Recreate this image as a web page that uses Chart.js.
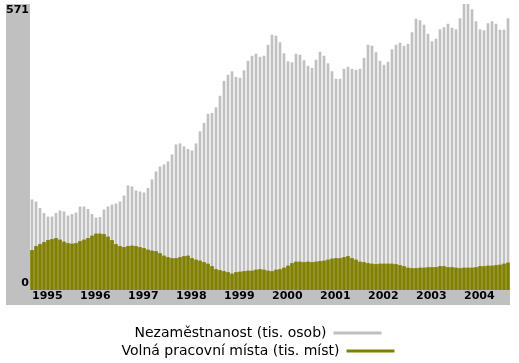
<!DOCTYPE html>
<html><head><meta charset="utf-8">
<script src="https://cdn.jsdelivr.net/npm/chart.js@4/dist/chart.umd.min.js"></script>
<style>html,body{margin:0;padding:0;background:#fff;}canvas{display:block;}</style>
</head><body>
<canvas id="c" width="519" height="363"></canvas>
<script>
const years = ['1995','1996','1997','1998','1999','2000','2001','2002','2003','2004'];
const monthNames = ['01','02','03','04','05','06','07','08','09','10','11','12'];
const yTicks = [0, 571];
const seriesNames = ['Nezaměstnanost (tis. osob)', 'Volná pracovní místa (tis. míst)'];

// Nezaměstnanost (tis. osob), monthly 1995-01 .. 2004-12
const unemployment = [
  180,176,163,153,146,146,153,158,156,148,151,154,
  166,166,161,151,144,145,160,166,170,172,176,188,
  208,206,198,196,194,203,220,236,246,250,256,270,
  290,292,286,281,278,292,316,333,351,353,364,387,
  417,429,436,425,423,438,457,467,471,465,467,489,
  509,507,494,472,456,454,471,469,458,447,443,459,
  475,467,452,436,421,421,441,445,441,439,441,463,
  489,487,474,457,449,455,480,489,493,487,491,514,
  541,538,529,511,496,501,520,524,531,523,520,542,
  571,571,560,536,520,518,532,536,531,519,519,542
];
// Volná pracovní místa (tis. míst)
const vacancies = [
  79,87,91,95,99,101,103,100,96,93,92,93,
  97,100,103,108,112,112,111,106,99,91,87,85,
  87,88,87,85,83,80,78,77,73,68,65,63,
  63,65,67,68,63,60,58,55,52,47,41,39,
  37,35,32,35,36,37,38,38,40,41,40,38,
  37,40,41,44,48,53,56,56,55,56,55,56,
  57,58,60,62,63,63,65,67,63,60,56,55,
  53,52,51,52,52,52,52,51,49,47,44,43,
  43,44,44,45,45,45,47,47,45,45,44,43,
  44,44,44,45,47,47,48,48,49,50,52,54
];

const categories = [];
years.forEach(y => monthNames.forEach(m => categories.push(y + '-' + m)));

const GRAY = '#c0c0c0';
const OLIVE = '#808000';
const FRAME = '#c0c0c0';

const framePlugin = {
  id: 'frame',
  beforeDraw(chart) {
    const {ctx, chartArea, scales} = chart;
    const y = scales.y;
    const stripH = 15;
    ctx.save();
    ctx.fillStyle = FRAME;
    ctx.fillRect(y.left, chartArea.top, chartArea.left - y.left, chartArea.bottom + stripH - chartArea.top);
    ctx.fillRect(y.left, chartArea.bottom, chartArea.right - y.left, stripH);
    ctx.restore();
  }
};

const tickFont = {family: 'DejaVu Sans', size: 11, weight: 'bold'};

new Chart(document.getElementById('c'), {
  type: 'bar',
  data: {
    labels: categories,
    datasets: [
      {label: seriesNames[0], data: unemployment, backgroundColor: GRAY, borderWidth: 0,
       barThickness: 2, grouped: false, order: 1},
      {label: seriesNames[1], data: vacancies, backgroundColor: OLIVE, borderWidth: 0,
       barThickness: 3, grouped: false, order: 0}
    ]
  },
  options: {
    responsive: false,
    animation: false,
    devicePixelRatio: 1,
    layout: {padding: {left: 6, right: 9, top: 4, bottom: 0}},
    plugins: {
      tooltip: {enabled: false},
      legend: {
        position: 'bottom',
        maxHeight: 41,
        rtl: true,
        reverse: true,
        textDirection: 'ltr',
        labels: {boxWidth: 48, boxHeight: 3, padding: 4, color: '#000',
                 font: {family: 'DejaVu Sans', size: 14}}
      }
    },
    scales: {
      x: {
        type: 'category',
        offset: true,
        grid: {display: false, drawTicks: false},
        border: {display: false},
        ticks: {
          autoSkip: false, maxRotation: 0, minRotation: 0, align: 'start', padding: 0,
          color: '#000', font: tickFont,
          callback: (v, i) => (i % 12 === 0 ? years[i / 12] : '')
        },
        afterFit(s) { s.height = 32; s.paddingLeft = 0; s.paddingRight = 0; }
      },
      y: {
        min: 0, max: 571,
        grid: {display: false, drawTicks: false},
        border: {display: false},
        afterBuildTicks(s) { s.ticks = yTicks.map(v => ({value: v})); },
        ticks: {
          padding: 1, color: '#000', font: tickFont,
          callback: (v) => (v === 0 ? ['0', ''] : ['', String(v)])
        },
        afterFit(s) { s.width = 24; s.paddingTop = 0; s.paddingBottom = 0; }
      }
    }
  },
  plugins: [framePlugin]
});
</script>
</body></html>
